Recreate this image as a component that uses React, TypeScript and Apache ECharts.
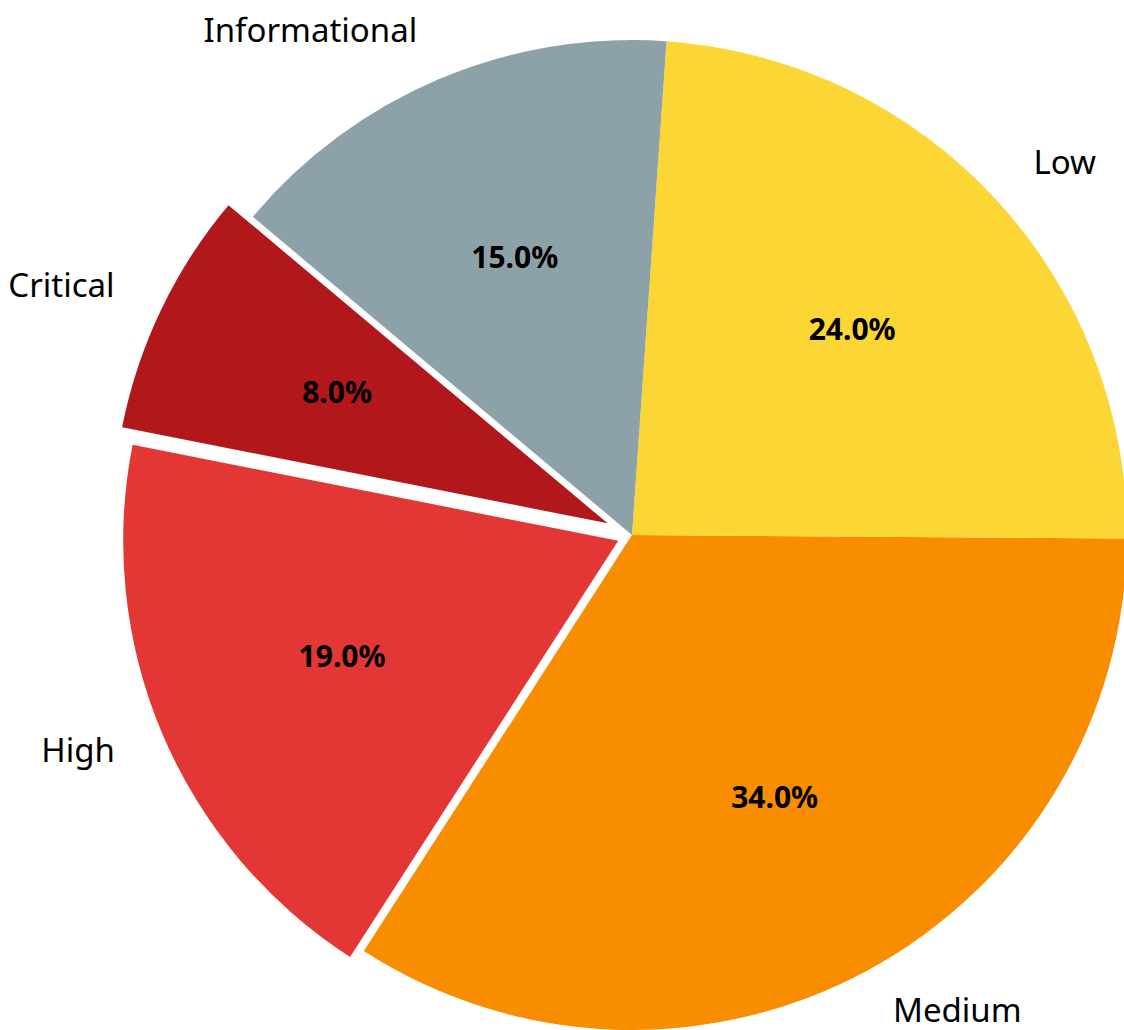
import React, { useEffect, useRef } from 'react';
import * as echarts from 'echarts';

const categories = ['Critical', 'High', 'Medium', 'Low', 'Informational'];
const shares = [8, 19, 34, 24, 15];
const sliceColors = ['#b2181b', '#e23734', '#f88d00', '#fbd634', '#8da1a9'];
// explode distance in pixels for each slice (0 = not exploded)
const explodeOffsets = [27, 15, 0, 0, 0];

const CX = 632;
const CY = 535;
const R = 495;
const START_ANGLE = 140;
const FONT = '"Noto Sans", "Open Sans", sans-serif';

function buildSeries(groupIdx: number[], offset: number, kind: 'name' | 'pct') {
  const data = categories.map((name, i) => {
    const visible = groupIdx.includes(i);
    return {
      name,
      value: shares[i],
      selected: offset > 0 && visible,
      itemStyle: {
        color: kind === 'name' && visible ? sliceColors[i] : 'rgba(0,0,0,0)',
        borderWidth: 0,
      },
      label: { show: visible },
    };
  });
  return {
    type: 'pie',
    center: [CX, CY],
    radius: kind === 'name' ? [0, R] : [0.2 * R, R],
    startAngle: START_ANGLE,
    clockwise: false,
    avoidLabelOverlap: false,
    selectedMode: offset > 0 ? 'multiple' : false,
    selectedOffset: offset,
    silent: true,
    animation: false,
    emphasis: { disabled: true, scale: false },
    select: { itemStyle: { borderWidth: 0 } },
    itemStyle: { borderWidth: 0 },
    label:
      kind === 'name'
        ? {
            position: 'outside',
            formatter: '{t|{b}}\n{gap| }',
            distanceToLabelLine: 2,
            rich: {
              t: { fontSize: 33, fontFamily: FONT, color: '#000', lineHeight: 40 },
              gap: { fontSize: 2, lineHeight: 8 },
            },
          }
        : {
            position: 'inside',
            formatter: (p: any) => '{t|' + p.percent.toFixed(1) + '%}\n{gap| }',
            rich: {
              t: {
                fontSize: 30,
                fontWeight: 'bold',
                fontFamily: FONT,
                color: '#000',
                lineHeight: 36,
              },
              gap: { fontSize: 2, lineHeight: 5 },
            },
          },
    labelLine: { show: false, length: 0.1 * R, length2: 0 },
    data,
  };
}

export default function App() {
  const ref = useRef<HTMLDivElement>(null);
  useEffect(() => {
    if (!ref.current) return;
    const chart = echarts.init(ref.current, undefined, { renderer: 'svg' });
    const groups: { idx: number[]; offset: number }[] = [];
    const plain = categories.map((_, i) => i).filter((i) => explodeOffsets[i] === 0);
    groups.push({ idx: plain, offset: 0 });
    categories.forEach((_, i) => {
      if (explodeOffsets[i] > 0) groups.push({ idx: [i], offset: explodeOffsets[i] });
    });
    const series: any[] = [];
    groups.forEach((g) => series.push(buildSeries(g.idx, g.offset, 'name')));
    groups.forEach((g) => series.push(buildSeries(g.idx, g.offset, 'pct')));
    chart.setOption({
      animation: false,
      backgroundColor: '#ffffff',
      series,
    });
    return () => chart.dispose();
  }, []);
  return (
    <div
      ref={ref}
      style={{ position: 'fixed', left: 0, top: 0, width: 1124, height: 1030 }}
    />
  );
}
